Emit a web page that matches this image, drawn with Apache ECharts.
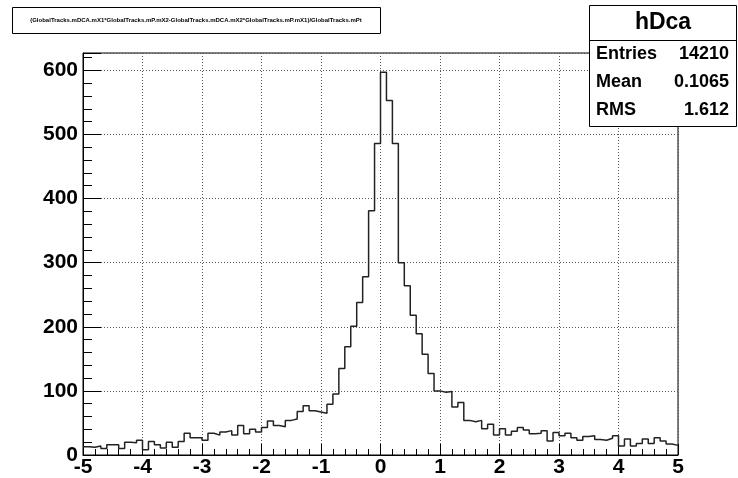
<!DOCTYPE html>
<html>
<head>
<meta charset="utf-8">
<script src="https://cdn.jsdelivr.net/npm/echarts@6/dist/echarts.min.js"></script>
<style>
  html, body { margin: 0; padding: 0; background: #fff; }
  #main { width: 738px; height: 478px; }
</style>
</head>
<body>
<div id="main"></div>
<script>
// histogram hDca: 100 bins from -5 to 5
var xMin = -5, xMax = 5, binWidth = 0.1
var counts = [
  13, 12, 14, 10, 16, 16, 10, 20, 19, 23,
  8, 21, 16, 11, 20, 12, 21, 34, 27, 27,
  23, 34, 31, 36, 38, 31, 46, 33, 40, 36,
  43, 53, 46, 44, 54, 56, 68, 77, 69, 67,
  65, 79, 95, 135, 169, 201, 238, 278, 381, 486,
  597, 553, 486, 300, 264, 218, 189, 157, 127, 100,
  98, 99, 75, 82, 54, 52, 54, 41, 48, 31,
  41, 31, 37, 43, 39, 33, 34, 38, 22, 35,
  30, 34, 27, 23, 29, 30, 24, 23, 26, 30,
  14, 25, 14, 18, 25, 18, 27, 22, 17, 15
]
var yMax = 627

var titleText = '(GlobalTracks.mDCA.mX1*GlobalTracks.mP.mX2-GlobalTracks.mDCA.mX2*GlobalTracks.mP.mX1)/GlobalTracks.mPt'
var statName = 'hDca'
var statLabels = ['Entries', 'Mean', 'RMS']
var statValues = ['14210', '0.1065', '1.612']

var font = "'Liberation Sans', Arial, Helvetica, sans-serif"

// step points at left bin edges + closing point at xMax
var stepData = counts.map(function (c, i) {
  return [+(xMin + i * binWidth).toFixed(2), c]
})
stepData.push([xMax, counts[counts.length - 1]])

var chart = echarts.init(document.getElementById('main'))

var statsGraphics = [
  {
    type: 'rect',
    shape: { x: 589.5, y: 5.5, width: 147, height: 121 },
    style: { fill: '#fff', stroke: '#000', lineWidth: 1 },
    z: 100
  },
  {
    type: 'line',
    shape: { x1: 589.5, y1: 40.5, x2: 736.5, y2: 40.5 },
    style: { stroke: '#000', lineWidth: 1 },
    z: 101
  },
  {
    type: 'text',
    x: 663, y: 23,
    style: { text: statName, font: 'bold 23px ' + font, fill: '#000', align: 'center', verticalAlign: 'middle' },
    z: 101
  }
]
var rowY = [54, 82, 110]
statLabels.forEach(function (lab, i) {
  statsGraphics.push({
    type: 'text', x: 596, y: rowY[i],
    style: { text: lab, font: 'bold 18px ' + font, fill: '#000', align: 'left', verticalAlign: 'middle' },
    z: 101
  })
  statsGraphics.push({
    type: 'text', x: 729, y: rowY[i],
    style: { text: statValues[i], font: 'bold 18px ' + font, fill: '#000', align: 'right', verticalAlign: 'middle' },
    z: 101
  })
})

var option = {
  animation: false,
  backgroundColor: '#fff',
  grid: {
    left: 83, right: 60, top: 53, bottom: 21,
    show: true, borderColor: '#000', borderWidth: 1
  },
  xAxis: {
    type: 'value',
    min: xMin, max: xMax, interval: 1,
    axisLine: { show: true, onZero: false, lineStyle: { color: '#000', width: 1 } },
    axisTick: { show: true, inside: true, length: 11, lineStyle: { color: '#000' } },
    minorTick: { show: true, splitNumber: 5, length: 6, lineStyle: { color: '#000' } },
    splitLine: { show: true, lineStyle: { color: '#555', type: [1, 2], width: 1 } },
    axisLabel: { margin: 2, color: '#000', fontWeight: 'bold', fontSize: 21, fontFamily: font }
  },
  yAxis: [
    {
      type: 'value',
      min: 0, max: yMax, interval: 100,
      axisLine: { show: true, onZero: false, lineStyle: { color: '#000', width: 1 } },
      axisTick: { show: true, inside: true, length: 18, lineStyle: { color: '#000' } },
      splitLine: { show: true, lineStyle: { color: '#555', type: [1, 2], width: 1 } },
      axisLabel: {
        margin: 5, color: '#000', fontWeight: 'bold', fontSize: 21, fontFamily: font,
        formatter: function (v) { return v % 100 === 0 ? String(v) : '' }
      }
    },
    {
      // minor ticks every 20
      type: 'value', position: 'left',
      min: 0, max: yMax, interval: 20,
      axisLine: { show: false, onZero: false },
      axisTick: { show: true, inside: true, length: 9, lineStyle: { color: '#000' } },
      splitLine: { show: false },
      axisLabel: { show: false }
    }
  ],
  graphic: [
    {
      type: 'rect',
      shape: { x: 12.5, y: 7.5, width: 368, height: 26 },
      style: { fill: '#fff', stroke: '#000', lineWidth: 1 },
      z: 100
    },
    {
      type: 'text',
      x: 196, y: 20.5,
      style: { text: titleText, font: 'bold 6px ' + font, fill: '#000', align: 'center', verticalAlign: 'middle' },
      z: 101
    }
  ].concat(statsGraphics),
  series: [
    {
      type: 'line',
      step: 'end',
      data: stepData,
      showSymbol: false,
      symbol: 'none',
      lineStyle: { color: '#222', width: 1.5 },
      z: 5
    }
  ]
}

chart.setOption(option)
</script>
</body>
</html>
